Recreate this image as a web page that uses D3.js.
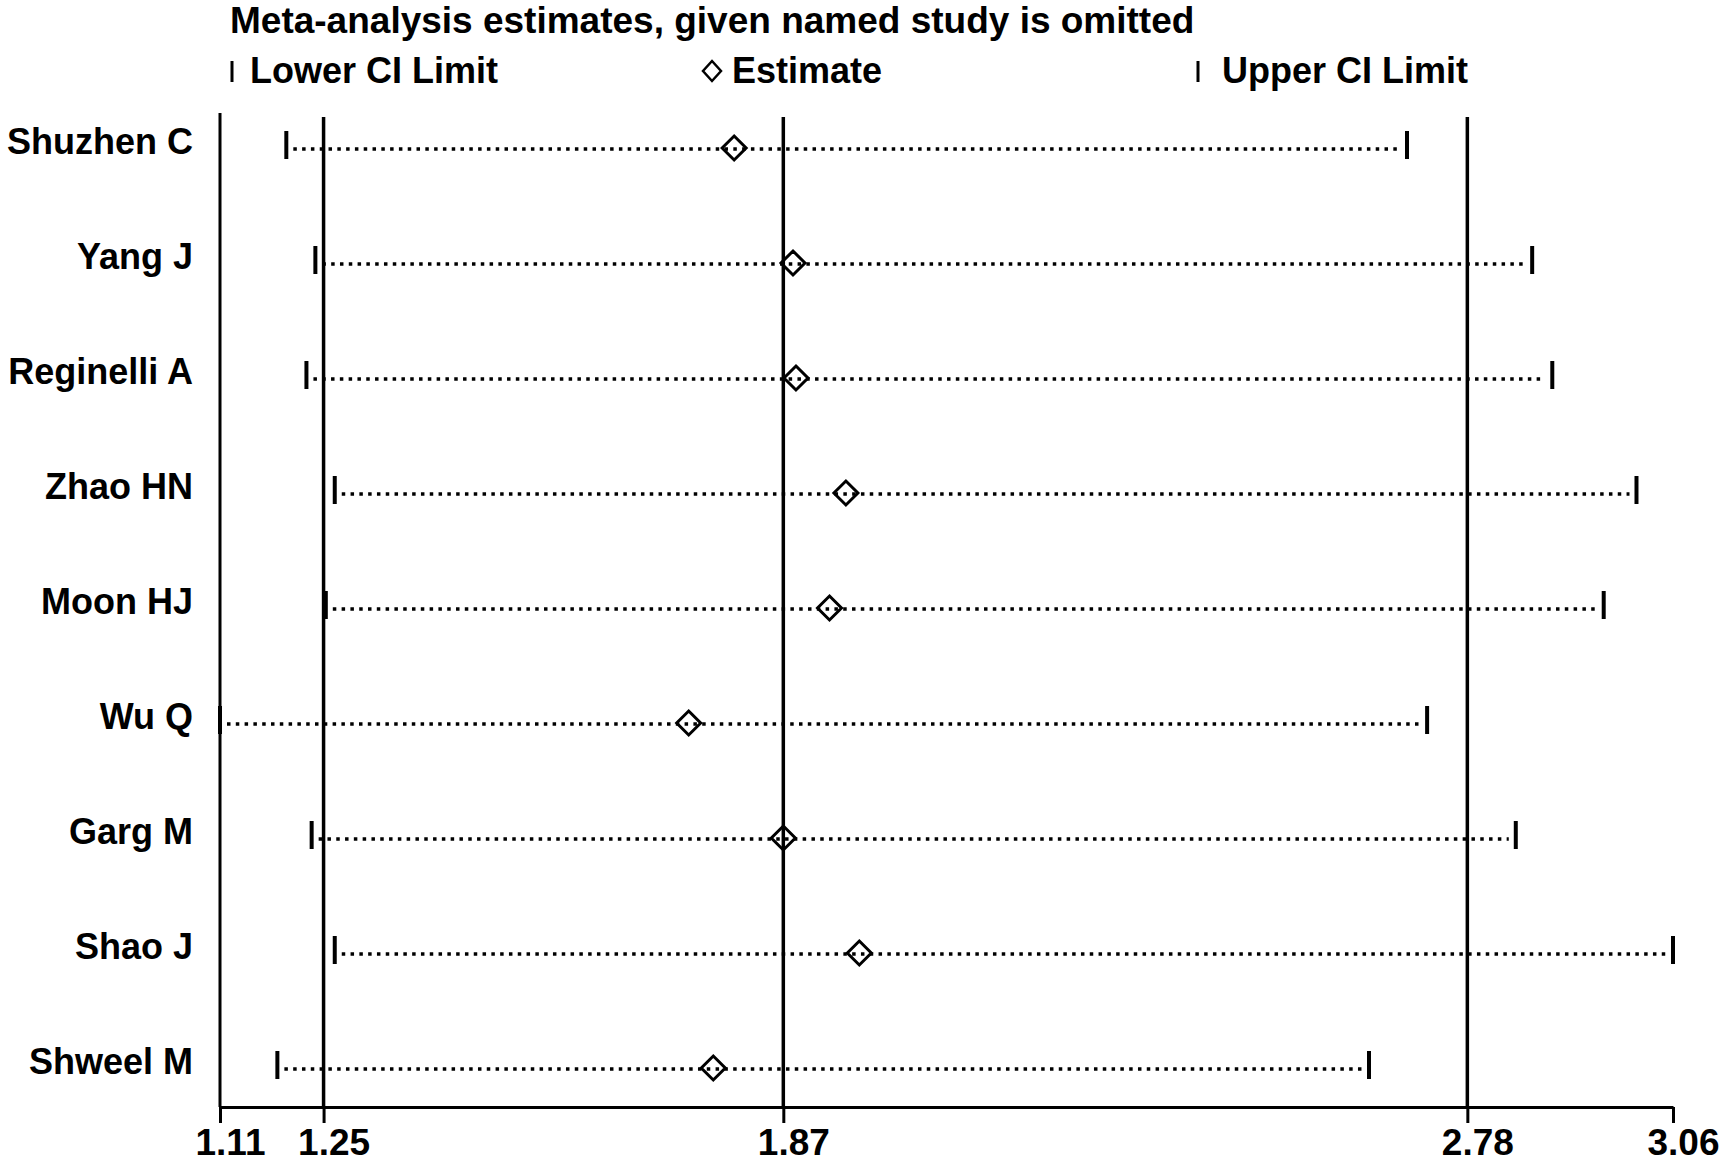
<!DOCTYPE html>
<html>
<head>
<meta charset="utf-8">
<script src="https://cdn.jsdelivr.net/npm/d3@7"></script>
<style>
  html, body { margin: 0; padding: 0; background: #fff; }
  svg { display: block; }
  text { font-family: "Liberation Sans", Arial, sans-serif; font-weight: bold; fill: #000; }
</style>
</head>
<body>
<svg id="chart" width="1727" height="1164"></svg>
<script>
// ---- data ----
const studies   = ["Shuzhen C", "Yang J", "Reginelli A", "Zhao HN", "Moon HJ", "Wu Q", "Garg M", "Shao J", "Shweel M"];
const lowerCI   = [1.199, 1.238, 1.226, 1.264, 1.252, 1.110, 1.233, 1.264, 1.187];
const estimate  = [1.800, 1.879, 1.883, 1.950, 1.928, 1.739, 1.866, 1.968, 1.772];
const upperCI   = [2.703, 2.871, 2.898, 3.011, 2.967, 2.730, 2.849, 3.060, 2.652];
const tickVals  = [1.110, 1.249, 1.866, 2.784, 3.060];   // axis ticks: min lower, overall lower, overall est, overall upper, max upper
const refLines  = [1.249, 1.866, 2.784];
const title     = "Meta-analysis estimates, given named study is omitted";
const legendLabels = ["Lower CI Limit", "Estimate", "Upper CI Limit"];

const rows = studies.map((s, i) => ({ s, lo: lowerCI[i], est: estimate[i], up: upperCI[i] }));

const svg = d3.select("#chart");
const x = d3.scaleLinear().domain([1.11, 3.06]).range([220, 1673]);
const y = d3.scalePoint().domain(studies).range([149, 1069]);
const plotTop = 113, axisY = 1107;

// title
svg.append("text").attr("x", 230).attr("y", 33)
  .style("font-size", "37px").text(title);

// legend
const lg = svg.append("g");
const legX = [232, 712, 1198], legTextX = [250, 732, 1222];
lg.append("line").attr("x1", legX[0]).attr("x2", legX[0]).attr("y1", 61).attr("y2", 82)
  .attr("stroke", "#000").attr("stroke-width", 3);
lg.append("path").attr("d", `M${legX[1]},${61}L${legX[1]+9},${71}L${legX[1]},${81}L${legX[1]-9},${71}Z`)
  .attr("fill", "none").attr("stroke", "#000").attr("stroke-width", 2.5);
lg.append("line").attr("x1", legX[2]).attr("x2", legX[2]).attr("y1", 61).attr("y2", 82)
  .attr("stroke", "#000").attr("stroke-width", 3);
legendLabels.forEach((t, i) => {
  lg.append("text").attr("x", legTextX[i]).attr("y", 83).style("font-size", "36px").text(t);
});

// left axis line
svg.append("line").attr("x1", x(1.11)).attr("x2", x(1.11)).attr("y1", plotTop).attr("y2", axisY)
  .attr("stroke", "#000").attr("stroke-width", 3);

// reference lines
svg.selectAll(".ref").data(refLines).enter().append("line")
  .attr("x1", d => x(d)).attr("x2", d => x(d)).attr("y1", 117).attr("y2", axisY)
  .attr("stroke", "#000").attr("stroke-width", 3.5);

// bottom axis
const axis = d3.axisBottom(x).tickValues(tickVals).tickFormat(d3.format(".2f"))
  .tickSize(16).tickSizeOuter(0).tickPadding(6);
const ag = svg.append("g").attr("transform", `translate(0,${axisY})`).call(axis);
ag.select(".domain").attr("stroke", "#000").attr("stroke-width", 3);
ag.selectAll(".tick line").attr("stroke", "#000").attr("stroke-width", 3);
ag.selectAll(".tick text").attr("dx", 10).style("font-size", "37px")
  .style("font-family", "'Liberation Sans', Arial, sans-serif").style("font-weight", "bold").attr("fill", "#000");

// rows
const rg = svg.selectAll(".row").data(rows).enter().append("g").attr("class", "row");
rg.append("line")
  .attr("x1", d => x(d.lo) + 7).attr("x2", d => x(d.up) - 7)
  .attr("y1", d => y(d.s)).attr("y2", d => y(d.s))
  .attr("stroke", "#000").attr("stroke-width", 3.5).attr("stroke-dasharray", "3.5 5.3");
rg.append("line")
  .attr("x1", d => x(d.lo)).attr("x2", d => x(d.lo))
  .attr("y1", d => y(d.s) - 18).attr("y2", d => y(d.s) + 10)
  .attr("stroke", "#000").attr("stroke-width", 4);
rg.append("line")
  .attr("x1", d => x(d.up)).attr("x2", d => x(d.up))
  .attr("y1", d => y(d.s) - 18).attr("y2", d => y(d.s) + 10)
  .attr("stroke", "#000").attr("stroke-width", 4);
rg.append("path")
  .attr("d", d => { const cx = x(d.est), cy = y(d.s) - 1, r = 12;
    return `M${cx},${cy-r}L${cx+r},${cy}L${cx},${cy+r}L${cx-r},${cy}Z`; })
  .attr("fill", "none").attr("stroke", "#000").attr("stroke-width", 3);
rg.append("text")
  .attr("x", 193).attr("y", d => y(d.s) + 5).attr("text-anchor", "end")
  .style("font-size", "36px").text(d => d.s);
</script>
</body>
</html>
